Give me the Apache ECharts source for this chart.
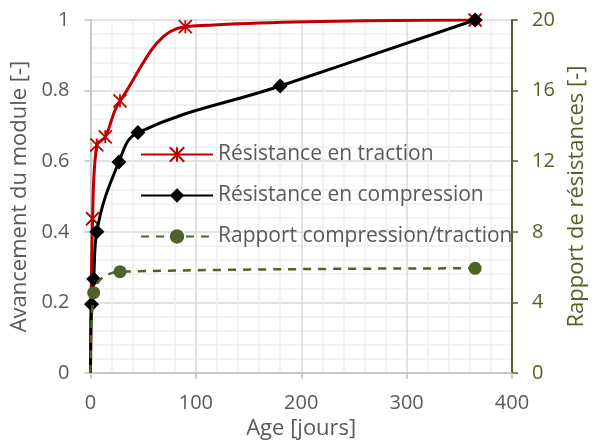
<!DOCTYPE html>
<html><head><meta charset="utf-8">
<script src="https://cdn.jsdelivr.net/npm/echarts@6/dist/echarts.min.js"></script>
<style>html,body{margin:0;padding:0;background:#fff}#c{width:602px;height:441px}</style>
</head><body><div id="c"></div>
<script>
// Data
const tractionDays = [0, 2, 6, 14, 28, 90, 365];
const tractionVals = [0, 0.437, 0.646, 0.669, 0.771, 0.981, 1.0];
const compressionDays = [0, 1, 3, 6, 27, 45, 180, 365];
const compressionVals = [0, 0.195, 0.266, 0.40, 0.598, 0.681, 0.813, 1.0];
const ratioDays = [0, 3, 28, 365];
const ratioVals = [0, 4.55, 5.74, 5.93];
const seriesNames = ['Résistance en traction', 'Résistance en compression', 'Rapport compression/traction'];
const xTitle = 'Age [jours]';
const yLeftTitle = 'Avancement du module [-]';
const yRightTitle = 'Rapport de résistances [-]';

// origin point is drawn without a marker
const zip = (a, b) => a.map((v, i) => i === 0 ? {value: [v, b[i]], symbol: 'none'} : [v, b[i]]);
const FONT = 'Open Sans';
const GREY = '#595959';
const OLIVE = '#4f6228';

const chart = echarts.init(document.getElementById('c'), null, {renderer: 'canvas'});
chart.setOption({
  animation: false,
  textStyle: {fontFamily: FONT},
  grid: {left: 90.5, right: 90, top: 20, bottom: 68, containLabel: false, outerBoundsMode: 'none'},
  legend: {
    orient: 'vertical', left: 135, top: 139,
    itemWidth: 72, itemHeight: 18, itemGap: 20,
    textStyle: {fontFamily: FONT, fontSize: 21, lineHeight: 21, color: GREY},
    data: seriesNames
  },
  xAxis: {
    type: 'value', min: 0, max: 400, interval: 100,
    name: xTitle, nameLocation: 'middle', nameGap: 44,
    nameTextStyle: {fontFamily: FONT, fontSize: 22, color: GREY},
    axisLine: {lineStyle: {color: '#bfbfbf', width: 1.5}},
    axisTick: {show: true, length: 6, lineStyle: {color: '#bfbfbf', width: 1.5}},
    axisLabel: {fontFamily: FONT, fontSize: 20, color: GREY, margin: 20},
    splitLine: {lineStyle: {color: '#d9d9d9', width: 1.5}},
    minorTick: {show: false, splitNumber: 5},
    minorSplitLine: {show: true, lineStyle: {color: '#f0f0f0', width: 1.5}}
  },
  yAxis: [{
    type: 'value', min: 0, max: 1, interval: 0.2,
    name: yLeftTitle, nameLocation: 'middle', nameGap: 52,
    nameTextStyle: {fontFamily: FONT, fontSize: 22, color: GREY},
    axisLine: {show: true, lineStyle: {color: '#bfbfbf', width: 1.5}},
    axisTick: {show: true, length: 6, lineStyle: {color: '#bfbfbf', width: 1.5}},
    axisLabel: {fontFamily: FONT, fontSize: 20, color: GREY, margin: 21},
    splitLine: {lineStyle: {color: '#d9d9d9', width: 1.5}},
    minorTick: {show: false, splitNumber: 5},
    minorSplitLine: {show: true, lineStyle: {color: '#f0f0f0', width: 1.5}}
  }, {
    type: 'value', min: 0, max: 20, interval: 4, position: 'right',
    name: yRightTitle, nameLocation: 'middle', nameGap: 52, nameRotate: 90,
    nameTextStyle: {fontFamily: FONT, fontSize: 22, color: OLIVE},
    axisLine: {show: true, lineStyle: {color: OLIVE, width: 2}},
    axisTick: {show: true, length: 6, lineStyle: {color: OLIVE, width: 1.5}},
    axisLabel: {fontFamily: FONT, fontSize: 20, color: OLIVE, margin: 20},
    splitLine: {show: false}
  }],
  series: [{
    name: seriesNames[0], type: 'line', yAxisIndex: 0,
    data: zip(tractionDays, tractionVals),
    smooth: 0.35,
    symbol: 'path://M0,0L10,10M10,0L0,10M5,0L5,10', symbolSize: 13,
    lineStyle: {color: '#c00000', width: 3},
    itemStyle: {color: '#c00000', borderColor: '#c00000', borderWidth: 1.8},
    z: 3
  }, {
    name: seriesNames[1], type: 'line', yAxisIndex: 0,
    data: zip(compressionDays, compressionVals),
    smooth: 0.4,
    symbol: 'diamond', symbolSize: 15,
    lineStyle: {color: '#000000', width: 3},
    itemStyle: {color: '#000000', borderColor: '#000000', borderWidth: 0},
    z: 4
  }, {
    name: seriesNames[2], type: 'line', yAxisIndex: 1,
    data: zip(ratioDays, ratioVals),
    smooth: 0.4,
    symbol: 'circle', symbolSize: 13,
    lineStyle: {color: OLIVE, width: 2.5, type: [8, 7]},
    itemStyle: {color: OLIVE, borderWidth: 0},
    z: 5
  }]
});
</script></body></html>
